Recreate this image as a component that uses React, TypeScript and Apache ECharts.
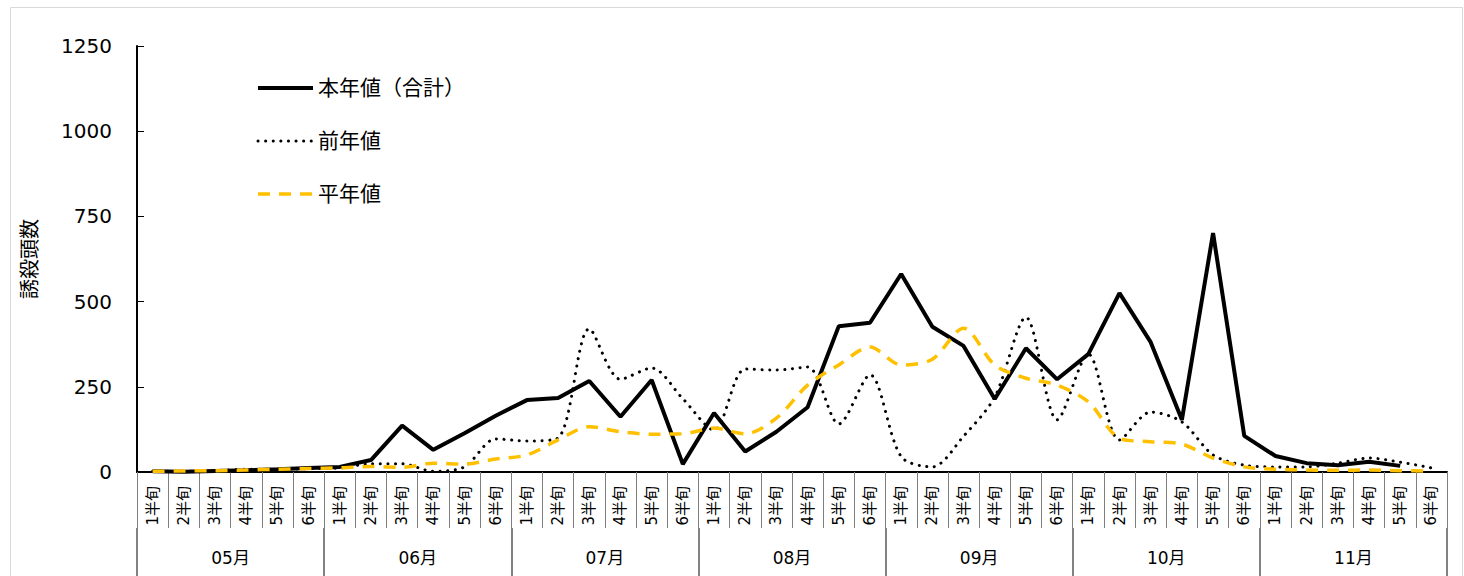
import React, { useEffect, useRef } from 'react';
import * as echarts from 'echarts';

const months = ['05月', '06月', '07月', '08月', '09月', '10月', '11月'];
const halves = ['1半旬', '2半旬', '3半旬', '4半旬', '5半旬', '6半旬'];
const categories = months.flatMap((m) => halves.map((h) => `${m}|${h}`));

const seriesNames = ['本年値（合計）', '前年値', '平年値'];

const thisYear = [
  2, 1, 3, 5, 8, 12,
  15, 35, 136, 65, 114, 165,
  211, 217, 267, 162, 270, 23,
  173, 60, 118, 190, 428, 438,
  581, 426, 370, 214, 363, 272,
  346, 525, 381, 153, 701, 106,
  47, 26, 20, 30, 18, null,
];

const lastYear = [
  2, 2, 4, 8, 8, 10,
  12, 24, 24, 2, 15, 97,
  91, 100, 420, 272, 305, 215,
  123, 302, 299, 308, 141, 285,
  45, 15, 105, 220, 454, 153,
  346, 94, 176, 147, 50, 20,
  15, 15, 26, 41, 29, 12,
];

const normalYear = [
  2, 3, 4, 6, 8, 10,
  12, 16, 14, 26, 23, 38,
  50, 94, 133, 118, 111, 112,
  129, 112, 158, 255, 314, 367,
  314, 331, 422, 314, 275, 255,
  206, 99, 89, 82, 41, 15,
  8, 6, 5, 6, 4, 3,
];

const yMin = 0;
const yMax = 1250;
const yInterval = 250;

const FONT = '"DejaVu Sans", "Noto Sans CJK JP", sans-serif';

export default function App() {
  const ref = useRef<HTMLDivElement>(null);

  useEffect(() => {
    document.body.style.margin = '0';
    if (!ref.current) return;
    const chart = echarts.init(ref.current, undefined, { renderer: 'svg' });
    chart.setOption({
      animation: false,
      backgroundColor: '#ffffff',
      textStyle: { fontFamily: FONT },
      graphic: [
        {
          type: 'rect',
          shape: { x: 10.5, y: 7.5, width: 1452, height: 600 },
          style: { fill: 'none', stroke: '#d9d9d9', lineWidth: 1 },
          silent: true,
          z: -10,
        },
      ],
      grid: { left: 137, right: 17, top: 46, bottom: 104, containLabel: false },
      legend: {
        orient: 'vertical',
        left: 256,
        top: 77,
        padding: 0,
        itemWidth: 55,
        itemHeight: 14,
        itemGap: 31,
        data: seriesNames,
        itemStyle: { opacity: 0 },
        lineStyle: { width: 'inherit' },
        textStyle: { fontSize: 21, color: '#000', fontFamily: FONT, lineHeight: 22 },
      },
      xAxis: [
        {
          type: 'category',
          data: categories,
          boundaryGap: true,
          axisLine: { show: true, lineStyle: { color: '#000', width: 2 } },
          axisTick: {
            show: true,
            interval: 0,
            length: 56,
            lineStyle: { color: '#7f7f7f', width: 1 },
          },
          axisLabel: {
            interval: 0,
            rotate: 90,
            margin: 14,
            fontSize: 15,
            color: '#000',
            fontFamily: FONT,
            formatter: (v: string) => v.split('|')[1],
          },
          splitLine: { show: false },
        },
        {
          type: 'category',
          data: months,
          position: 'bottom',
          offset: 56,
          boundaryGap: true,
          axisLine: { show: false },
          axisTick: {
            show: true,
            interval: 0,
            length: 60,
            lineStyle: { color: '#595959', width: 1.5 },
          },
          axisLabel: {
            interval: 0,
            margin: 21,
            fontSize: 17,
            color: '#000',
            fontFamily: FONT,
          },
          splitLine: { show: false },
        },
      ],
      yAxis: {
        type: 'value',
        min: yMin,
        max: yMax,
        interval: yInterval,
        name: '誘殺頭数',
        nameLocation: 'middle',
        nameGap: 99,
        nameTextStyle: { fontSize: 20, color: '#000', fontFamily: '"Noto Sans CJK JP", sans-serif' },
        axisLine: { show: true, lineStyle: { color: '#000', width: 2 } },
        axisTick: { show: true, inside: true, length: 7, lineStyle: { color: '#000', width: 1 } },
        axisLabel: {
          fontSize: 20,
          color: '#000',
          margin: 25,
          fontFamily: FONT,
          formatter: (v: number) => String(v),
        },
        splitLine: { show: false },
      },
      series: [
        {
          name: seriesNames[0],
          type: 'line',
          data: thisYear,
          symbol: 'none',
          connectNulls: false,
          lineStyle: { color: '#000', width: 4, type: 'solid' },
          itemStyle: { color: '#000' },
          z: 2,
        },
        {
          name: seriesNames[1],
          type: 'line',
          data: lastYear,
          symbol: 'none',
          smooth: 0.3,
          lineStyle: { color: '#000', width: 3, type: [0.1, 7.5], cap: 'round' },
          itemStyle: { color: '#000' },
          z: 3,
        },
        {
          name: seriesNames[2],
          type: 'line',
          data: normalYear,
          symbol: 'none',
          smooth: 0.3,
          lineStyle: { color: '#FFC000', width: 3.5, type: [12, 9] },
          itemStyle: { color: '#FFC000' },
          z: 4,
        },
      ],
    });
    return () => chart.dispose();
  }, []);

  return <div ref={ref} style={{ width: 1464, height: 576 }} />;
}
